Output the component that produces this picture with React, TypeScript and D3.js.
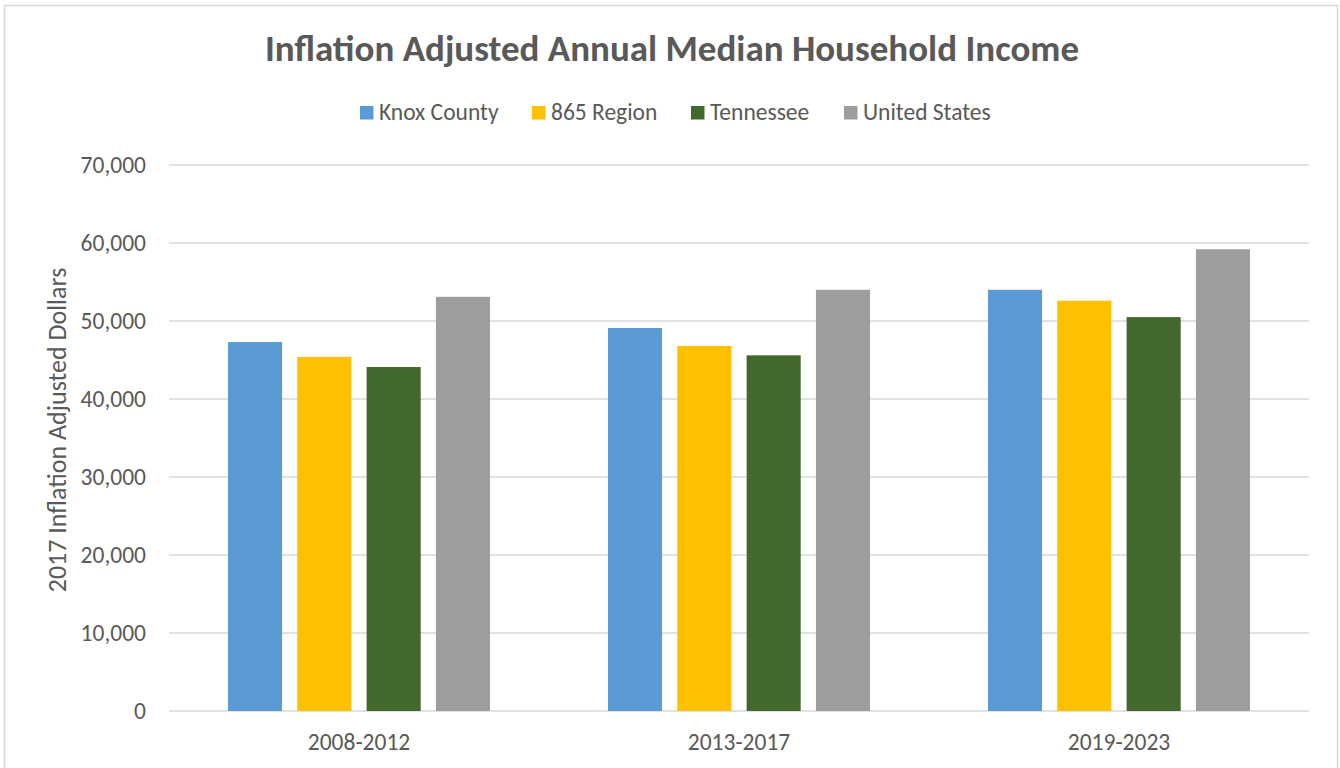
import * as d3 from 'd3';

const periods = ['2008-2012', '2013-2017', '2019-2023'];
const seriesNames = ['Knox County', '865 Region', 'Tennessee', 'United States'];
const knoxCounty = [47300, 49100, 54000];
const region865 = [45400, 46800, 52600];
const tennessee = [44100, 45600, 50500];
const unitedStates = [53100, 54000, 59200];
const yTicks = [0, 10000, 20000, 30000, 40000, 50000, 60000, 70000];

const colors = ['#5b9bd5', '#ffc000', '#43682b', '#9e9e9e'];
const FONT = "Carlito, Calibri, Lato, 'Open Sans', sans-serif";

export default function App() {
  const width = 1340;
  const height = 768;
  const margin = { top: 165, right: 31, bottom: 57, left: 169 };
  const innerW = width - margin.left - margin.right;
  const innerH = height - margin.top - margin.bottom;

  const values = [knoxCounty, region865, tennessee, unitedStates];

  const x0 = d3.scaleBand<string>().domain(periods).range([0, innerW]).paddingInner(0).paddingOuter(0);
  const x1 = d3.scaleBand<string>()
    .domain(seriesNames)
    .range([59, x0.bandwidth() - 59])
    .paddingInner(0.22)
    .paddingOuter(0);
  const y = d3.scaleLinear().domain([0, 70000]).range([innerH, 0]);
  const fmt = d3.format(',');

  // legend layout
  const legendItems = seriesNames.map((name, i) => ({ name, color: colors[i] }));
  const legendX = [360, 532, 691, 844];

  return (
    <svg width={width} height={height} style={{ position: 'absolute', left: 0, top: 0, background: '#fff' }}>
      <rect x={4.5} y={5.5} width={1333} height={770} fill="#fff" stroke="#d9d9d9" strokeWidth={1.5} />
      <text x={672} y={61} textAnchor="middle" fontFamily={FONT} fontWeight="bold" fontSize={37} fill="#595959">
        Inflation Adjusted Annual Median Household Income
      </text>

      {legendItems.map((d, i) => (
        <g key={d.name} transform={`translate(${legendX[i]},106)`}>
          <rect width={13.5} height={13.5} fill={d.color} />
          <text x={19} y={14} fontFamily={FONT} fontSize={23.5} fill="#595959">{d.name}</text>
        </g>
      ))}

      <g transform={`translate(${margin.left},${margin.top})`}>
        {yTicks.map(t => (
          <g key={t}>
            <line x1={0} x2={innerW} y1={y(t)} y2={y(t)} stroke="#d9d9d9" strokeWidth={1.5} />
            <text x={-23} y={y(t)} dy="0.35em" textAnchor="end" fontFamily={FONT} fontSize={23.5} fill="#595959">
              {fmt(t)}
            </text>
          </g>
        ))}

        {periods.map((p, pi) => (
          <g key={p} transform={`translate(${x0(p)},0)`}>
            {seriesNames.map((s, si) => (
              <rect
                key={s}
                x={x1(s)}
                y={y(values[si][pi])}
                width={x1.bandwidth()}
                height={innerH - y(values[si][pi])}
                fill={colors[si]}
              />
            ))}
            <text
              x={x0.bandwidth() / 2}
              y={innerH + 39}
              textAnchor="middle"
              fontFamily={FONT}
              fontSize={23.5}
              fill="#595959"
            >
              {p}
            </text>
          </g>
        ))}
      </g>

      <text
        transform={`translate(66,430) rotate(-90)`}
        textAnchor="middle"
        fontFamily={FONT}
        fontSize={26}
        fill="#595959"
      >
        2017 Inflation Adjusted Dollars
      </text>
    </svg>
  );
}
